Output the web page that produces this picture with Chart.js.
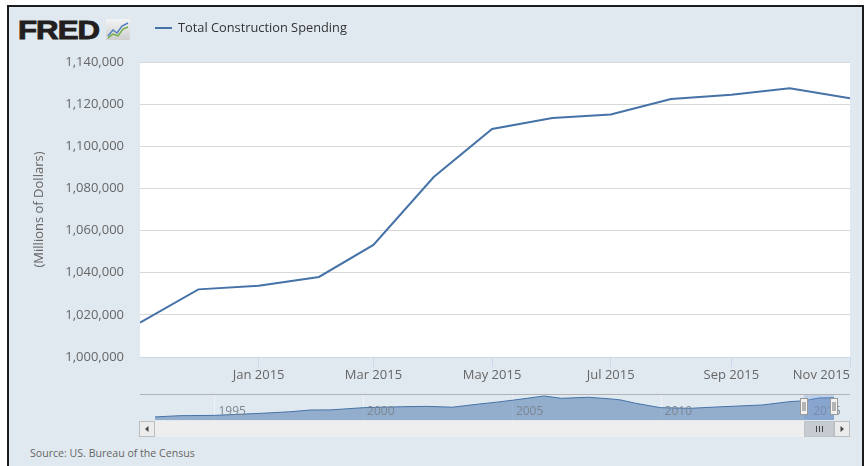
<!DOCTYPE html>
<html>
<head>
<meta charset="utf-8">
<script src="https://cdn.jsdelivr.net/npm/chart.js@4.4.0/dist/chart.umd.min.js"></script>
<style>
  html, body { margin: 0; padding: 0; background: #fff; overflow: hidden; width: 867px; height: 466px; }
  #frame { position: absolute; left: 7px; top: 5px; width: 853px; height: 480px; border: 2px solid #1c1c1c; background: #e1e9f0; }
  #logo { position: absolute; left: 18px; top: 17px; font: bold 26px "Liberation Sans", Arial, sans-serif; line-height: 26px;
          color: #231f20; letter-spacing: -0.8px; transform: scaleX(1.2); transform-origin: left top;
          -webkit-text-stroke: 0.9px #231f20; }
  #icon { position: absolute; left: 106px; top: 19px; }
  #source { position: absolute; left: 30px; top: 446px; font: 10.6px "Open Sans", sans-serif; line-height: 15px; color: #666; }
  canvas { position: absolute; }
</style>
</head>
<body>
<div id="frame"></div>
<div id="logo">FRED</div>
<svg id="icon" width="24" height="21" viewBox="0 0 24 21">
  <defs><linearGradient id="g" x1="0" y1="0" x2="0" y2="1"><stop offset="0" stop-color="#f4f4f4"/><stop offset="1" stop-color="#cfcfcf"/></linearGradient></defs>
  <rect x="0" y="0" width="24" height="21" fill="url(#g)"/>
  <polyline points="2,17 7,11 11,14 16,7 22,4" fill="none" stroke="#4f7fc0" stroke-width="1.4"/>
  <polyline points="2,19 7,15 12,17 17,10 22,8" fill="none" stroke="#6fae3f" stroke-width="1.4"/>
</svg>
<div id="source">Source: US. Bureau of the Census</div>
<canvas id="main" width="867" height="466" style="left:0;top:0"></canvas>
<canvas id="nav" width="730" height="60" style="left:130px;top:385px"></canvas>
<script>
// Total construction spending, millions of dollars
const months = ['2014-11', '2014-12', '2015-01', '2015-02', '2015-03', '2015-04', '2015-05',
                '2015-06', '2015-07', '2015-08', '2015-09', '2015-10', '2015-11'];
const spending = [1016300, 1032100, 1033800, 1038000, 1053200, 1085400, 1108200,
                  1113400, 1115100, 1122400, 1124500, 1127500, 1122800];
const tickMonths = ['2014-11', '2015-01', '2015-03', '2015-05', '2015-07', '2015-09', '2015-11'];
const tickLabels = ['', 'Jan 2015', 'Mar 2015', 'May 2015', 'Jul 2015', 'Sep 2015', 'Nov 2015'];

// navigator: the whole series
const navMonths = ['1993-01', '1993-11', '1995-01', '1996-08', '1997-07', '1998-04', '1998-12', '2000-01',
                   '2001-05', '2002-03', '2003-01', '2003-12', '2004-07', '2005-02', '2006-02', '2006-09',
                   '2007-08', '2008-05', '2008-09', '2009-03', '2010-01', '2011-01', '2012-02', '2013-06',
                   '2014-05', '2014-11', '2015-05', '2015-11'];
const navSpending = [440000, 483000, 495000, 568000, 620000, 686000, 690000, 768000,
                     803000, 815000, 785000, 900000, 965000, 1042000, 1184000, 1102000,
                     1138000, 1080000, 1042000, 925000, 768000, 746000, 803000, 864000,
                     981000, 1016000, 1113000, 1123000];
const navTickYears = [1995, 2000, 2005, 2010, 2015];

const LINE = '#4572a7';
const FONT = 'Open Sans';

function dayOf(m) {
  const [y, mo] = m.split('-').map(Number);
  return Date.UTC(y, mo - 1, 1) / 864e5;
}

// white plot background
const plotBg = {
  id: 'plotBg',
  beforeDraw(chart) {
    const { ctx, chartArea: a } = chart;
    ctx.save();
    ctx.fillStyle = '#fff';
    ctx.fillRect(a.left, a.top, a.width, a.height);
    ctx.restore();
  },
};

// FRED style legend next to the logo
const fredLegend = {
  id: 'fredLegend',
  afterDraw(chart) {
    const { ctx } = chart;
    const ds = chart.data.datasets[0];
    ctx.save();
    ctx.strokeStyle = ds.borderColor;
    ctx.lineWidth = 2;
    ctx.beginPath();
    ctx.moveTo(155, 28);
    ctx.lineTo(172, 28);
    ctx.stroke();
    ctx.fillStyle = '#333';
    ctx.font = '12.8px "' + FONT + '"';
    ctx.textBaseline = 'middle';
    ctx.fillText(ds.label, 178, 28.5);
    ctx.restore();
  },
};

new Chart(document.getElementById('main'), {
  type: 'line',
  data: {
    datasets: [{
      label: 'Total Construction Spending',
      data: months.map((m, i) => ({ x: dayOf(m), y: spending[i] })),
      borderColor: LINE,
      borderWidth: 2,
      pointRadius: 0,
      tension: 0,
      fill: false,
    }],
  },
  options: {
    responsive: false,
    animation: false,
    layout: { padding: { left: 0, right: 17, top: 62, bottom: 79 } },
    plugins: { legend: { display: false }, tooltip: { enabled: false } },
    scales: {
      x: {
        type: 'linear',
        min: dayOf(months[0]),
        max: dayOf(months[months.length - 1]),
        afterBuildTicks: (s) => { s.ticks = tickMonths.map((m) => ({ value: dayOf(m) })); },
        afterFit: (s) => { s.height = 30; },
        grid: {
          drawOnChartArea: false,
          tickLength: 10,
          color: (c) => (c.index === 0 ? 'rgba(0,0,0,0)' : '#ccd6eb'),
        },
        border: { color: '#ccd6eb' },
        ticks: {
          autoSkip: false,
          maxRotation: 0,
          align: 'inner',
          padding: 0,
          color: '#666',
          font: { family: FONT, size: 13 },
          callback: (v, i) => tickLabels[i],
        },
      },
      y: {
        min: 1000000,
        max: 1140000,
        afterFit: (s) => { s.width = 140; },
        grid: { color: '#d8d8d8', drawTicks: false },
        border: { display: false },
        ticks: {
          stepSize: 20000,
          padding: 16,
          color: '#666',
          font: { family: FONT, size: 13 },
          callback: (v) => v.toLocaleString('en-US'),
        },
        title: {
          display: true,
          text: '(Millions of Dollars)',
          color: '#666',
          font: { family: FONT, size: 13 },
          padding: { top: 31 },
        },
      },
    },
  },
  plugins: [plotBg, fredLegend],
});

// navigator + scrollbar under the main chart
const selStart = dayOf(months[0]);
const selEnd = dayOf(months[months.length - 1]);
const OUT_L = 10, OUT_R = 720; // outline reaches the main plot edges

const navDecor = {
  id: 'navDecor',
  beforeDatasetsDraw(chart) {
    const { ctx, chartArea: a, scales: { x } } = chart;
    ctx.save();
    ctx.strokeStyle = '#eef2f6';
    ctx.lineWidth = 1;
    navTickYears.forEach((y) => {
      const px = Math.round(x.getPixelForValue(dayOf(y + '-01'))) + 0.5;
      ctx.beginPath();
      ctx.moveTo(px, a.top);
      ctx.lineTo(px, a.bottom);
      ctx.stroke();
    });
    ctx.strokeStyle = '#b2b1b6';
    ctx.beginPath();
    ctx.moveTo(OUT_L, a.top + 0.5);
    ctx.lineTo(OUT_R, a.top + 0.5);
    ctx.stroke();
    ctx.restore();
  },
  afterDatasetsDraw(chart) {
    const { ctx, chartArea: a, scales: { x } } = chart;
    const x0 = Math.round(x.getPixelForValue(selStart));
    const x1 = Math.round(x.getPixelForValue(selEnd));
    ctx.save();

    // year labels
    ctx.fillStyle = '#7c8793';
    ctx.font = '12px "' + FONT + '"';
    ctx.textBaseline = 'middle';
    navTickYears.forEach((y) => {
      const px = x.getPixelForValue(dayOf(y + '-01'));
      ctx.fillText(String(y), px + 4, a.top + 18);
    });

    // selected range
    ctx.fillStyle = 'rgba(110,150,215,0.3)';
    ctx.fillRect(x0, a.top + 1, x1 - x0, a.bottom - a.top - 1);

    // handles
    [x0, x1].forEach((hx) => {
      ctx.fillStyle = '#f2f2f2';
      ctx.strokeStyle = '#999';
      ctx.lineWidth = 1;
      ctx.fillRect(hx - 3.5, a.top + 4, 7, 16);
      ctx.strokeRect(hx - 3.5, a.top + 4.5, 7, 16);
      ctx.strokeStyle = '#777';
      ctx.beginPath();
      ctx.moveTo(hx - 1, a.top + 8); ctx.lineTo(hx - 1, a.top + 17);
      ctx.moveTo(hx + 1, a.top + 8); ctx.lineTo(hx + 1, a.top + 17);
      ctx.stroke();
    });

    // scrollbar
    const sy = a.bottom + 1, sh = 16;
    ctx.fillStyle = '#eeeeee';
    ctx.fillRect(OUT_L, sy, OUT_R - OUT_L, sh);
    ctx.fillStyle = '#c6cbd1';
    ctx.fillRect(x0, sy, x1 - x0, sh);
    ctx.strokeStyle = '#c0c4c8';
    ctx.strokeRect(x0 + 0.5, sy + 0.5, x1 - x0 - 1, sh - 1);
    ctx.strokeStyle = '#444';
    const mid = (x0 + x1) / 2;
    ctx.beginPath();
    [-3, 0, 3].forEach((d) => {
      ctx.moveTo(Math.round(mid + d) + 0.5, sy + 5);
      ctx.lineTo(Math.round(mid + d) + 0.5, sy + 11);
    });
    ctx.stroke();

    // buttons
    [[OUT_L - 1, -1], [OUT_R - 16, 1]].forEach(([bx, dir]) => {
      ctx.fillStyle = '#ececec';
      ctx.fillRect(bx, sy, 16, sh);
      ctx.strokeStyle = '#bdbdbd';
      ctx.strokeRect(bx + 0.5, sy + 0.5, 15, sh - 1);
      ctx.fillStyle = '#444';
      const cx = bx + 8, cy = sy + 8;
      ctx.beginPath();
      ctx.moveTo(cx + 2 * dir, cy);
      ctx.lineTo(cx - 1.5 * dir, cy - 3);
      ctx.lineTo(cx - 1.5 * dir, cy + 3);
      ctx.closePath();
      ctx.fill();
    });
    ctx.restore();
  },
};

new Chart(document.getElementById('nav'), {
  type: 'line',
  data: {
    datasets: [{
      data: navMonths.map((m, i) => ({ x: dayOf(m), y: navSpending[i] })),
      borderColor: LINE,
      borderWidth: 1,
      backgroundColor: 'rgba(69,114,167,0.5)',
      fill: 'start',
      pointRadius: 0,
      tension: 0,
    }],
  },
  options: {
    responsive: false,
    animation: false,
    layout: { padding: { left: 25, right: 26, top: 9, bottom: 25 } },
    plugins: { legend: { display: false }, tooltip: { enabled: false } },
    scales: {
      x: { type: 'linear', display: false, min: dayOf(navMonths[0]), max: dayOf(navMonths[navMonths.length - 1]) },
      y: { display: false, min: 330000, max: 1255000 },
    },
  },
  plugins: [navDecor],
});
</script>
</body>
</html>
